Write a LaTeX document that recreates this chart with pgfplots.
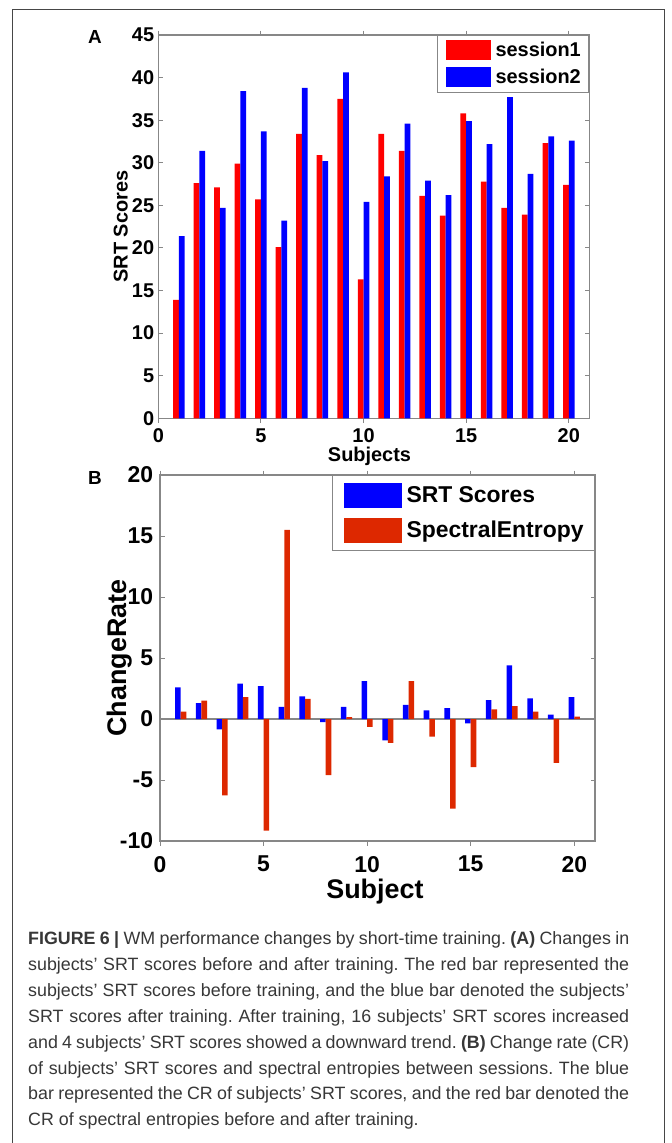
\documentclass[border=0pt]{standalone}
\usepackage{fontspec}
\setmainfont{Liberation Sans}
\usepackage{pgfplots}
\usepackage{pgfplotstable}
\pgfplotsset{compat=1.18}
\definecolor{barred}{RGB}{255,0,0}
\definecolor{barblue}{RGB}{0,0,255}
\definecolor{sered}{RGB}{221,40,0}
\definecolor{axgray}{RGB}{135,135,135}
\definecolor{captext}{RGB}{55,55,55}
\definecolor{framegray}{RGB}{70,70,70}

\pgfplotstableread{
x s1 s2
1 13.9 21.4
2 27.6 31.4
3 27.1 24.7
4 29.9 38.4
5 25.7 33.7
6 20.1 23.2
7 33.4 38.8
8 30.9 30.2
9 37.5 40.6
10 16.3 25.4
11 33.4 28.4
12 31.4 34.6
13 26.1 27.9
14 23.8 26.2
15 35.8 34.9
16 27.8 32.2
17 24.7 37.7
18 23.9 28.7
19 32.3 33.1
20 27.4 32.6
}\tableA

\pgfplotstableread{
x srt se
1 2.6 0.6
2 1.3 1.5
3 -0.85 -6.25
4 2.9 1.8
5 2.7 -9.15
6 1.0 15.5
7 1.85 1.65
8 -0.25 -4.6
9 1.0 0.15
10 3.1 -0.65
11 -1.75 -1.95
12 1.15 3.1
13 0.7 -1.45
14 0.9 -7.35
15 -0.35 -3.95
16 1.55 0.8
17 4.4 1.05
18 1.7 0.6
19 0.35 -3.6
20 1.8 0.2
}\tableB

\pgfplotsset{
  mybase/.style={
    scale only axis,
    axis line style={axgray, line width=1.2bp},
    every tick/.style={axgray, line width=1bp},
    tick align=inside,
    major tick length=4.5bp,
    ybar,
    legend cell align=left,
  }
}

\begin{document}
\frenchspacing
\begin{tikzpicture}
\useasboundingbox (0bp,0bp) rectangle (672bp,-1143bp);
\draw[framegray, line width=0.9bp] (12.5bp,-1143bp) -- (12.5bp,-9.5bp) -- (664.5bp,-9.5bp) -- (664.5bp,-1143bp);

% Panel A
\begin{axis}[
  mybase,
  at={(158.3bp,-418.3bp)}, anchor=south west,
  width=431bp, height=383.3bp,
  xmin=0, xmax=21, ymin=0, ymax=45,
  bar width=0.28,
  xtick={0,5,10,15,20}, xticklabels={0,5,10,15,20},
  ytick={0,5,10,15,20,25,30,35,40,45},
  yticklabels={0,5,10,15,20,25,30,35,40,45},
  xticklabel style={font=\fontsize{20}{20}\selectfont\bfseries, inner sep=0pt, anchor=north, yshift=-5.5bp},
  yticklabel style={font=\fontsize{20}{20}\selectfont\bfseries, inner sep=0pt, anchor=east, xshift=-4bp},
  xlabel={Subjects}, ylabel={SRT Scores},
  xlabel style={font=\fontsize{20}{20}\selectfont\bfseries, at={(axis description cs:0.49,-0.1)}, anchor=center},
  ylabel style={font=\fontsize{20}{20}\selectfont\bfseries, at={(axis description cs:-0.087,0.5)}, anchor=center, rotate=0},
  legend style={at={(rel axis cs:1,1)}, anchor=north east, draw=axgray, line width=1bp,
    inner xsep=8bp, inner ysep=4.8bp, row sep=7bp, column sep=5bp,
    font=\fontsize{20}{20}\selectfont\bfseries, nodes={inner sep=0pt}},
]
\addplot[fill=barred, draw=none, bar shift=-0.14,
  legend image code/.code={\fill[barred] (0bp,-10bp) rectangle (45bp,10bp);}]
  table[x=x, y=s1] {\tableA};
\addlegendentry{session1}
\addplot[fill=barblue, draw=none, bar shift=0.14,
  legend image code/.code={\fill[barblue] (0bp,-10bp) rectangle (45bp,10bp);}]
  table[x=x, y=s2] {\tableA};
\addlegendentry{session2}
\end{axis}

% Panel B
\begin{axis}[
  mybase,
  at={(160bp,-841bp)}, anchor=south west,
  width=435bp, height=366bp,
  xmin=0, xmax=21, ymin=-10, ymax=20,
  bar width=0.27,
  xtick={0,5,10,15,20}, xticklabels={0,5,10,15,20},
  ytick={-10,-5,0,5,10,15,20},
  yticklabels={-10,-5,0,5,10,15,20},
  extra y ticks={0}, extra y tick labels={},
  extra y tick style={grid=major, major grid style={axgray, line width=1.2bp}},
  xticklabel style={font=\fontsize{23}{23}\selectfont\bfseries, inner sep=0pt, anchor=north, yshift=-10.5bp},
  yticklabel style={font=\fontsize{23}{23}\selectfont\bfseries, inner sep=0pt, anchor=east, xshift=-6.7bp},
  xlabel={Subject}, ylabel={ChangeRate},
  xlabel style={font=\fontsize{27}{27}\selectfont\bfseries, at={(axis description cs:0.494,-0.137)}, anchor=center},
  ylabel style={font=\fontsize{27}{27}\selectfont\bfseries, at={(axis description cs:-0.094,0.5)}, anchor=center, rotate=0},
  legend style={at={(rel axis cs:1,1)}, anchor=north east, draw=axgray, line width=1bp,
    inner xsep=11bp, inner ysep=7.7bp, row sep=9.6bp, column sep=4.7bp,
    font=\fontsize{23}{23}\selectfont\bfseries, nodes={inner sep=0pt}},
]
\addplot[fill=barblue, draw=none, bar shift=-0.135,
  legend image code/.code={\fill[barblue] (0bp,-12.5bp) rectangle (58.3bp,12.5bp);}]
  table[x=x, y=srt] {\tableB};
\addlegendentry{SRT Scores}
\addplot[fill=sered, draw=none, bar shift=0.135,
  legend image code/.code={\fill[sered] (0bp,-12.5bp) rectangle (58.3bp,12.5bp);}]
  table[x=x, y=se] {\tableB};
\addlegendentry{SpectralEntropy}
\end{axis}

\node[font=\fontsize{19}{19}\selectfont\bfseries] at (95bp,-37bp) {A};
\node[font=\fontsize{19}{19}\selectfont\bfseries] at (95bp,-478bp) {B};

% Caption
\begin{scope}[every node/.style={anchor=base west, inner sep=0pt, text=captext, font=\fontsize{17.9}{25.9}\selectfont}]
\node at (28bp,-944.5bp) {\makebox[601bp][s]{\textbf{FIGURE 6 |} WM performance changes by short-time training. \textbf{(A)} Changes in}};
\node at (28bp,-970.4bp) {\makebox[601bp][s]{subjects’ SRT scores before and after training. The red bar represented the}};
\node at (28bp,-996.3bp) {\makebox[601bp][s]{subjects’ SRT scores before training, and the blue bar denoted the subjects’}};
\node at (28bp,-1022.2bp) {\makebox[601bp][s]{SRT scores after training. After training, 16 subjects’ SRT scores increased}};
\node at (28bp,-1048.1bp) {\makebox[601bp][s]{and 4 subjects’ SRT scores showed a downward trend. \textbf{(B)} Change rate (CR)}};
\node at (28bp,-1074.0bp) {\makebox[601bp][s]{of subjects’ SRT scores and spectral entropies between sessions. The blue}};
\node at (28bp,-1099.9bp) {\makebox[601bp][s]{bar represented the CR of subjects’ SRT scores, and the red bar denoted the}};
\node at (28bp,-1125.8bp) {CR of spectral entropies before and after training.};
\end{scope}
\end{tikzpicture}
\end{document}
